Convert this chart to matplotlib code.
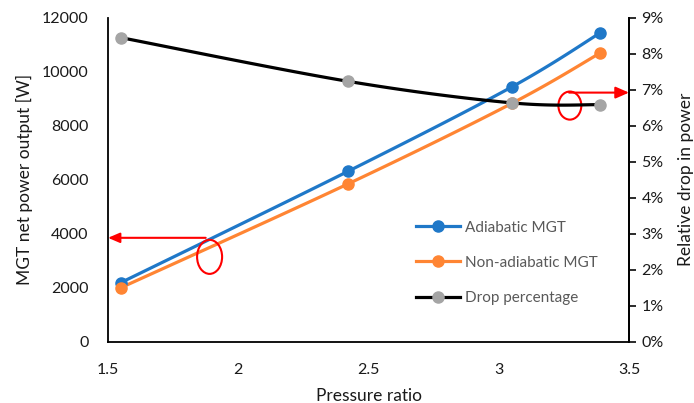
import numpy as np
import matplotlib
matplotlib.use("Agg")
import matplotlib.pyplot as plt
from matplotlib.patches import Ellipse
from matplotlib.ticker import FuncFormatter, MultipleLocator

# ---- data ----
pressure_ratio = [1.55, 2.42, 3.05, 3.39]
adiabatic = [2190, 6300, 9430, 11435]
non_adiabatic = [2000, 5835, 8820, 10690]
drop_pct = [8.44, 7.23, 6.63, 6.58]

x_ticks = [1.5, 2, 2.5, 3, 3.5]
x_tick_labels = ["1.5", "2", "2.5", "3", "3.5"]
series_names = ["Adiabatic MGT", "Non-adiabatic MGT", "Drop percentage"]

plt.rcParams['font.family'] = ['Lato', 'DejaVu Sans']

BLUE = '#1F78C8'
ORANGE = '#FF8533'
GREY = '#A5A5A5'
TEXT = '#1a1a1a'


def smooth(xs, ys, n=40):
    """Excel-like smoothed line (Catmull-Rom Bezier)."""
    P = np.column_stack([xs, ys]).astype(float)
    m = len(P)
    out = []
    for i in range(m - 1):
        p0 = P[i - 1] if i > 0 else P[i]
        p1 = P[i]
        p2 = P[i + 1]
        p3 = P[i + 2] if i + 2 < m else P[i + 1]
        c1 = p1 + (p2 - p0) / 6.0
        c2 = p2 - (p3 - p1) / 6.0
        t = np.linspace(0, 1, n)[:, None]
        seg = ((1 - t) ** 3) * p1 + 3 * ((1 - t) ** 2) * t * c1 + 3 * (1 - t) * t ** 2 * c2 + t ** 3 * p2
        out.append(seg if i == 0 else seg[1:])
    s = np.vstack(out)
    return s[:, 0], s[:, 1]


fig = plt.figure(figsize=(6.94, 4.03), dpi=100)
ax = fig.add_axes([108 / 694, 1 - 341.7 / 403, (629 - 108) / 694, (341.7 - 17.5) / 403])
ax2 = ax.twinx()

lw = 2.3
ms = 8

sx, sy = smooth(pressure_ratio, adiabatic)
ax.plot(sx, sy, color=BLUE, lw=lw, zorder=3)
ax.plot(pressure_ratio, adiabatic, 'o', color=BLUE, ms=ms, zorder=4)
sx, sy = smooth(pressure_ratio, non_adiabatic)
ax.plot(sx, sy, color=ORANGE, lw=lw, zorder=3)
ax.plot(pressure_ratio, non_adiabatic, 'o', color=ORANGE, ms=ms, zorder=4)

sx, sy = smooth(pressure_ratio, drop_pct)
ax2.plot(sx, sy, color='black', lw=lw, zorder=3)
ax2.plot(pressure_ratio, drop_pct, 'o', color=GREY, ms=ms, zorder=4)

ax.set_xlim(1.5, 3.5)
ax.set_ylim(0, 12000)
ax2.set_ylim(0, 9)
ax.set_xticks(x_ticks)
ax.set_xticklabels(x_tick_labels)
ax.yaxis.set_major_locator(MultipleLocator(2000))
ax2.yaxis.set_major_locator(MultipleLocator(1))
ax2.yaxis.set_major_formatter(FuncFormatter(lambda v, p: f"{int(round(v))}%"))

for a in (ax, ax2):
    a.spines['top'].set_visible(False)
    for s in a.spines.values():
        s.set_linewidth(1.3)
        s.set_color('black')
ax.tick_params(axis='y', length=0, labelsize=11.5, colors=TEXT, pad=14)
ax.tick_params(axis='x', length=0, labelsize=11.5, colors=TEXT, pad=15)
ax2.tick_params(axis='y', length=5, width=1.3, direction='out', labelsize=11.5, colors=TEXT, pad=4)
ax2.spines['left'].set_visible(False)
ax2.spines['bottom'].set_visible(False)

ax.set_xlabel("Pressure ratio", fontsize=12.5, color=TEXT, labelpad=8)
ax.set_ylabel("MGT net power output [W]", fontsize=12.5, color=TEXT, labelpad=6)
ax2.set_ylabel("Relative drop in power", fontsize=12.5, color=TEXT, labelpad=10)

# annotations
ax.add_patch(Ellipse((1.89, 3140), 0.096, 1260, fill=False, ec='red', lw=1.5, zorder=5))
ax.add_patch(Ellipse((3.273, 8740), 0.088, 1040, fill=False, ec='red', lw=1.5, zorder=5))
ax.annotate('', xy=(1.5, 3845), xytext=(1.875, 3845),
            arrowprops=dict(arrowstyle='-|>,head_length=0.7,head_width=0.3', color='red', lw=1.5,
                            shrinkA=0, shrinkB=0), annotation_clip=False, zorder=6)
ax.annotate('', xy=(3.5, 9220), xytext=(3.27, 9220),
            arrowprops=dict(arrowstyle='-|>,head_length=0.8,head_width=0.35', color='red', lw=1.5,
                            shrinkA=0, shrinkB=0), annotation_clip=False, zorder=6)

# legend
h1 = plt.Line2D([], [], color=BLUE, lw=lw, marker='o', ms=ms)
h2 = plt.Line2D([], [], color=ORANGE, lw=lw, marker='o', ms=ms)
h3 = plt.Line2D([], [], color='black', lw=lw, marker='o', ms=ms, mfc=GREY, mec=GREY)
leg = fig.legend([h1, h2, h3], series_names, loc='upper left',
                 bbox_to_anchor=(402 / 694, 1 - 207 / 403), frameon=False,
                 fontsize=11, labelcolor='#595959', handlelength=2.9, handletextpad=0.3,
                 labelspacing=1.38)

fig.savefig("out.png", dpi=100)
